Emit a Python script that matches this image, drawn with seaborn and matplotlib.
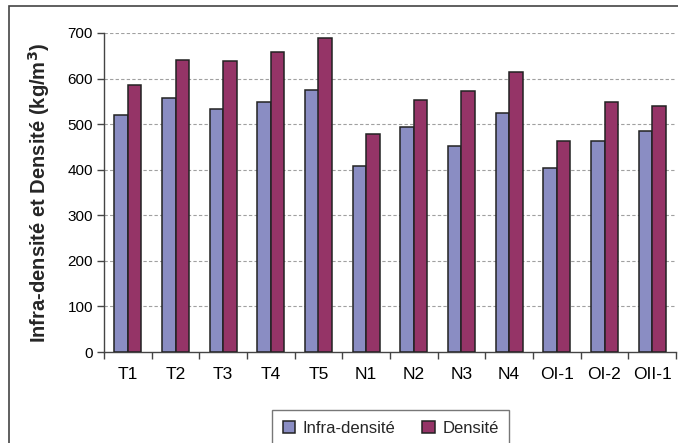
import matplotlib
matplotlib.use("Agg")
import matplotlib.pyplot as plt
import seaborn as sns
import pandas as pd
from matplotlib.patches import Rectangle

# Wood density per sample (kg/m3)
categories = ["T1", "T2", "T3", "T4", "T5", "N1", "N2", "N3", "N4", "OI-1", "OI-2", "OII-1"]
infra_densite = [519, 557, 534, 549, 575, 409, 493, 453, 524, 403, 464, 484]
densite = [585, 640, 638, 658, 690, 479, 552, 573, 614, 464, 549, 540]
series_names = ["Infra-densité", "Densité"]
y_ticks = [0, 100, 200, 300, 400, 500, 600, 700]

df = pd.DataFrame({
    "cat": categories * 2,
    "val": infra_densite + densite,
    "serie": [series_names[0]] * len(categories) + [series_names[1]] * len(categories),
})

sns.set_theme(style="white")
plt.rcParams["font.family"] = ["Liberation Sans", "DejaVu Sans"]

fig = plt.figure(figsize=(6.78, 4.43), dpi=100)
ax = fig.add_axes([104 / 678, 1 - 352 / 443, (676 - 104) / 678, (352 - 33) / 443])

palette = {series_names[0]: "#8A8DC3", series_names[1]: "#953467"}
sns.barplot(data=df, x="cat", y="val", hue="serie", order=categories,
            hue_order=series_names, palette=palette, width=0.56,
            edgecolor="#222222", linewidth=1.1, saturation=1, ax=ax, zorder=3)

ax.set_xlim(-0.5, len(categories) - 0.5)
ax.set_ylim(0, 700)
ax.set_yticks(y_ticks)
ax.set_yticklabels([str(t) for t in y_ticks], fontsize=11, color="black")
ax.tick_params(axis="x", labelsize=12.5, colors="black", pad=11)
ax.set_xticks(range(len(categories)))
ax.set_xticklabels(categories)
ax.set_xlabel("")
ax.set_ylabel("Infra-densité et Densité (kg/m$^\\mathbf{3}$)", fontsize=14.5,
              fontweight="bold", labelpad=11)

# dashed gridlines
for t in y_ticks[1:]:
    ax.axhline(t, color="#a0a0a0", linestyle=(0, (3, 2)), linewidth=0.8, zorder=1)

# axes spines: only left and bottom
for side in ("top", "right"):
    ax.spines[side].set_visible(False)
for side in ("left", "bottom"):
    ax.spines[side].set_color("#444444")
    ax.spines[side].set_linewidth(1.0)

# outward ticks on y; category separators on x
ax.tick_params(axis="y", which="major", direction="out", length=5, width=1,
               color="#444444", left=True, pad=3)
ax.set_xticks([i - 0.5 for i in range(len(categories) + 1)], minor=True)
ax.tick_params(axis="x", which="minor", direction="out", length=5, width=1,
               color="#444444", bottom=True)
ax.tick_params(axis="x", which="major", length=0)

# legend
leg = ax.legend(loc="upper left", bbox_to_anchor=(272 / 678, 1 - 410 / 443),
                bbox_transform=fig.transFigure, borderaxespad=0, ncol=2,
                frameon=True, fontsize=12, handlelength=0.75, handleheight=0.75,
                columnspacing=1.6, handletextpad=0.45, borderpad=0.65,
                fancybox=False)
leg.get_frame().set_edgecolor("#555555")
leg.get_frame().set_linewidth(1.0)

# outer chart frame
fig.patches.append(Rectangle((9 / 678, -0.1), 1.2, 1 - 6 / 443 + 0.1,
                             transform=fig.transFigure, fill=False,
                             edgecolor="#444444", linewidth=1.2))

fig.savefig("out.png", dpi=100)
